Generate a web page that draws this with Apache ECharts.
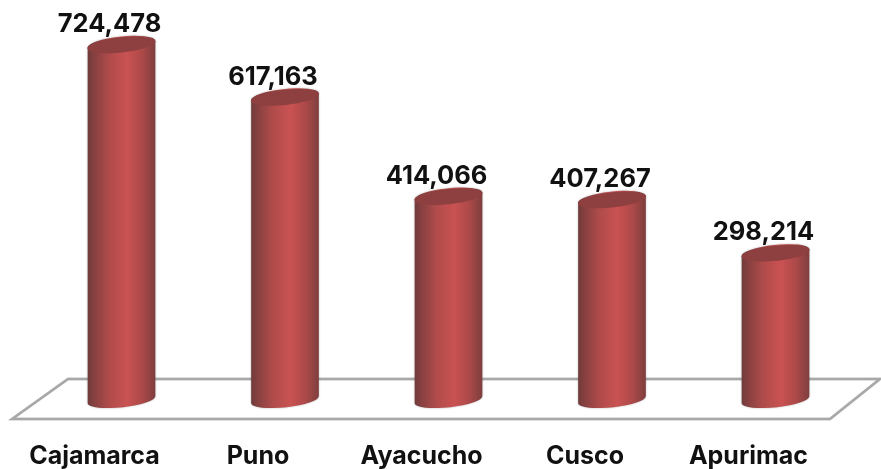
<!DOCTYPE html>
<html><head><meta charset="utf-8">
<style>html,body{margin:0;padding:0;background:#fff}#c{width:881px;height:469px}</style>
<script src="https://cdn.jsdelivr.net/npm/echarts@6/dist/echarts.min.js"></script>
</head><body><div id="c"></div>
<script>
const categories = ['Cajamarca','Puno','Ayacucho','Cusco','Apurimac'];
const values = [724478,617163,414066,407267,298214];
const body = {type:'linear',x:0,y:0,x2:1,y2:0,colorStops:[
  {offset:0,color:'#703a3a'},{offset:0.1,color:'#874040'},{offset:0.32,color:'#b04b4b'},
  {offset:0.58,color:'#ca5252'},{offset:0.8,color:'#ad4949'},{offset:1,color:'#7e3e3e'}]};
const HALF = 34, RX = 34.2, RY = 7.6, ANGLE = 6;
const rad = ANGLE*Math.PI/180;
const TILT = RX*Math.sin(rad);
const EXT_Y = Math.hypot(RY*Math.cos(rad), RX*Math.sin(rad));
const EXT_X = Math.hypot(RX*Math.cos(rad), RY*Math.sin(rad));
function renderCylinder(params, api){
  const i = api.value(0), v = api.value(1);
  const top = api.coord([i, v]);
  const base = api.coord([i, 0]);
  const x = top[0], yT = top[1], yB = base[1];
  const l = x-HALF, r = x+HALF;
  const pathData = `M${l} ${yT+TILT}L${l} ${yB+TILT}A${RX} ${RY} ${-ANGLE} 0 0 ${r} ${yB-TILT}L${r} ${yT-TILT}A${RX} ${RY} ${-ANGLE} 0 0 ${l} ${yT+TILT}Z`;
  return {type:'group',children:[
    {type:'path',shape:{pathData:pathData,layout:'cover',x:x-EXT_X,y:yT-EXT_Y,width:2*EXT_X,height:yB-yT+2*EXT_Y},
      style:{fill:body,shadowColor:'rgba(70,70,70,0.45)',shadowBlur:2}},
    {type:'ellipse',x:x,y:yT,rotation:rad,shape:{cx:0,cy:0,rx:RX,ry:RY},
      style:{fill:'#8e3f3f'}},
    {type:'text',x:x-12,y:yT-20.5,style:{text:v.toLocaleString('en-US'),align:'center',verticalAlign:'middle',
      fontFamily:'Inter',fontWeight:700,fontSize:25.5,fill:'#111'}}
  ]};
}
const chart = echarts.init(document.getElementById('c'),null,{renderer:'canvas'});
chart.setOption({
  animation:false,
  backgroundColor:'#fff',
  grid:{left:39.75,right:23.75,top:8,bottom:70},
  xAxis:{type:'category',data:categories,axisLine:{show:false},axisTick:{show:false},
    axisLabel:{fontFamily:'Inter',fontWeight:700,fontSize:25,color:'#111',margin:45,interval:0,
      padding:[0,54,0,0]}},
  yAxis:{type:'value',min:0,max:800000,show:false,splitLine:{show:false}},
  graphic:[{type:'polygon',z:0,silent:true,
    shape:{points:[[68,379],[880,379],[830,419],[12,419]]},
    style:{fill:'#fff',stroke:'#a8a8a8',lineWidth:2.4,shadowColor:'rgba(0,0,0,0.2)',shadowBlur:1}}],
  series:[{type:'custom',z:4,clip:false,silent:true,renderItem:renderCylinder,
    data:values.map((v,i)=>[i,v]),encode:{x:0,y:1}}]
});
</script></body></html>
